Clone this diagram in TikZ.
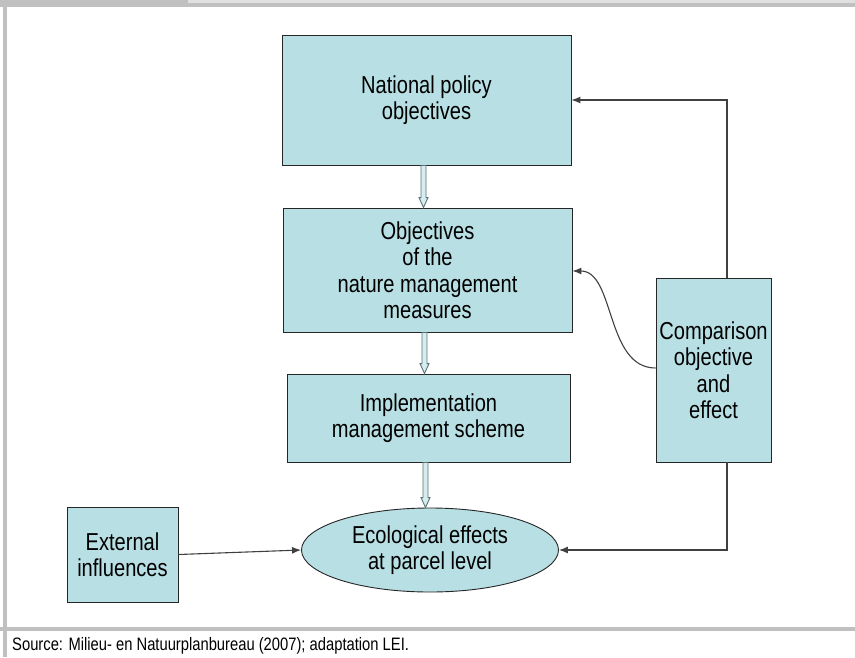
\documentclass[tikz,border=0pt]{standalone}
\usepackage{fontspec}
\setmainfont{Liberation Sans}
\newfontfamily\dfont[FakeStretch=0.82]{Liberation Sans}
\usetikzlibrary{arrows.meta,shapes.geometric,calc}
\definecolor{boxfill}{RGB}{184,223,227}
\definecolor{frameA}{RGB}{192,192,192}
\definecolor{frameB}{RGB}{224,224,224}
\definecolor{holline}{RGB}{90,115,118}
\definecolor{holfill}{RGB}{215,236,238}
\tikzset{
  box/.style={draw=black!85, line width=0.9pt, fill=boxfill, rectangle, align=center,
     font=\dfont\fontsize{24.5}{26.5}\selectfont, inner sep=0pt},
  ell/.style={draw=black!85, line width=0.9pt, fill=boxfill, ellipse, align=center,
     font=\dfont\fontsize{24.5}{26.5}\selectfont, inner sep=0pt},
  conn/.style={draw=black!75, line width=1.1pt, -{Latex[length=9pt,width=7pt]}},
  hol/.style={draw=holline, line width=0.9pt, fill=holfill, line join=miter},
}
\begin{document}
\begin{tikzpicture}[x=1pt,y=-1pt]
\useasboundingbox (0,0) rectangle (855,657);
% frame
\fill[frameB] (188,0) rectangle (855,3);
\fill[frameA] (0,0) rectangle (188,7);
\fill[frameA] (0,3) rectangle (855,7);
\fill[frameA] (3,0) rectangle (7,657);
\fill[frameA] (0,627) rectangle (855,631);
% nodes
\node[box, minimum width=289pt, minimum height=130pt] (b1) at (426.5,100) {National policy\\objectives};
\node[box, minimum width=289pt, minimum height=124pt] (b2) at (427.5,270) {Objectives\\of the\\nature management\\measures};
\node[box, minimum width=283pt, minimum height=88pt] (b3) at (428.5,418) {Implementation\\management scheme};
\node[ell, minimum width=257pt, minimum height=84pt] (eco) at (430,550) {Ecological effects\\at parcel level};
\node[box, minimum width=111pt, minimum height=95pt] (ext) at (122.5,554.5) {External\\influences};
\node[box, minimum width=115pt, minimum height=184pt] (cmp) at (713.5,370) {Comparison\\objective\\and\\effect};
% hollow arrows
\newcommand\holarrow[2]{%
  \draw[hol] let \p1=(#1.south), \p2=(#2.north) in
    (\x1-2.5pt-3pt,\y1) -- (\x1-2.5pt-3pt,\y2+10pt) -- (\x1-4.5pt-3pt,\y2+10pt) -- (\x1-3pt,\y2)
    -- (\x1+4.5pt-3pt,\y2+10pt) -- (\x1+2.5pt-3pt,\y2+10pt) -- (\x1+2.5pt-3pt,\y1) -- cycle;}
\holarrow{b1}{b2}
\holarrow{b2}{b3}
\holarrow{b3}{eco}
% connectors
\coordinate (ct) at ($(cmp.north)+(13.5,0)$);
\coordinate (cb) at ($(cmp.south)+(13.5,0)$);
\draw[conn] (ct) |- (b1.east);
\draw[conn] (cb) |- (eco.east);
\draw[conn] (ext.east) -- (eco.west);
\draw[conn] ($(cmp.west)+(0,-2)$) .. controls +(-50,0) and (615,271) .. ($(b2.east)+(0,1)$);
% source
\node[anchor=base west, inner sep=0pt, font=\dfont\fontsize{18}{20}\selectfont] (src) at (12,650) {Source: Milieu- en Natuurplanbureau (2007); adaptation LEI.};
\end{tikzpicture}
\end{document}
